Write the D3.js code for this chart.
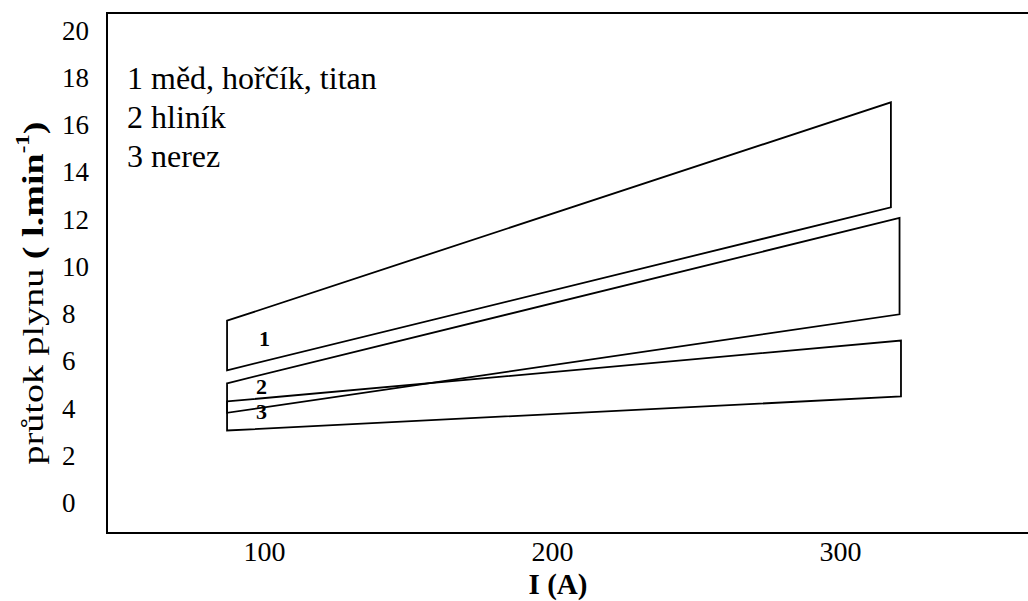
<!DOCTYPE html>
<html>
<head>
<meta charset="utf-8">
<script src="https://cdn.jsdelivr.net/npm/d3@7"></script>
<style>
  body { margin: 0; background: #fff; }
</style>
</head>
<body>
<svg width="1028" height="601" font-family="Liberation Serif, DejaVu Serif, serif"></svg>
<script>
// band data: current range (A) and gas flow (l/min) at both ends
const bandNames = ["1", "2", "3"];
const currentMin = [87, 87, 87];
const currentMax = [317.5, 320.5, 321];
const lowAtMin = [5.6, 3.8, 3.05];
const highAtMin = [7.7, 5.05, 4.28];
const lowAtMax = [12.5, 7.97, 4.49];
const highAtMax = [16.95, 12.05, 6.86];

// where the band numbers sit
const labelX = [100, 99, 99];
const labelY = [6.97, 4.92, 3.85];

const xTicks = [100, 200, 300];
const yTicks = [0, 2, 4, 6, 8, 10, 12, 14, 16, 18, 20];
const legendLines = ["1 měd, hořčík, titan", "2 hliník", "3 nerez"];

const svg = d3.select("svg");
const plot = {left: 107, top: 13, right: 1040, bottom: 533};

const x = d3.scaleLinear().domain([100, 300]).range([264.5, 840.5]);
const y = d3.scaleLinear().domain([0, 20]).range([502.5, 30.3]);

// frame (right side runs off the picture)
svg.append("rect")
  .attr("x", plot.left)
  .attr("y", plot.top)
  .attr("width", plot.right - plot.left)
  .attr("height", plot.bottom - plot.top)
  .attr("fill", "none")
  .attr("stroke", "#000")
  .attr("stroke-width", 2);

// y tick labels, left aligned like the original
svg.append("g")
  .selectAll("text")
  .data(yTicks)
  .join("text")
  .attr("x", 62)
  .attr("y", d => y(d))
  .attr("dy", "0.35em")
  .style("font-size", "27px")
  .text(d => d);

// x tick labels
svg.append("g")
  .selectAll("text")
  .data(xTicks)
  .join("text")
  .attr("x", d => x(d))
  .attr("y", 561)
  .attr("text-anchor", "middle")
  .style("font-size", "28px")
  .text(d => d);

// axis titles
svg.append("text")
  .attr("x", 558)
  .attr("y", 594)
  .attr("text-anchor", "middle")
  .style("font-size", "29px")
  .style("font-weight", "bold")
  .text("I (A)");

const yTitle = svg.append("text")
  .attr("transform", "translate(43,293) rotate(-90) scale(1.27,1)")
  .attr("text-anchor", "middle")
  .style("font-size", "30px");
yTitle.append("tspan").text("průtok plynu ");
yTitle.append("tspan").style("font-weight", "bold").text("( l.min");
yTitle.append("tspan").style("font-weight", "bold").style("font-size", "18px")
  .attr("dy", "-0.8em").text("-1");
yTitle.append("tspan").style("font-weight", "bold").attr("dy", "0.5em").text(")");

// bands
const bands = bandNames.map((n, i) => [
  [currentMin[i], highAtMin[i]],
  [currentMax[i], highAtMax[i]],
  [currentMax[i], lowAtMax[i]],
  [currentMin[i], lowAtMin[i]]
]);

const line = d3.line().x(d => x(d[0])).y(d => y(d[1])).curve(d3.curveLinearClosed);

svg.append("g")
  .selectAll("path")
  .data(bands)
  .join("path")
  .attr("d", line)
  .attr("fill", "none")
  .attr("stroke", "#000")
  .attr("stroke-width", 1.8)
  .attr("stroke-linejoin", "miter");

svg.append("g")
  .selectAll("text")
  .data(bandNames)
  .join("text")
  .attr("x", (d, i) => x(labelX[i]))
  .attr("y", (d, i) => y(labelY[i]))
  .attr("dy", "0.35em")
  .attr("text-anchor", "middle")
  .style("font-size", "22px")
  .style("font-weight", "bold")
  .text(d => d);

// legend
svg.append("g")
  .selectAll("text")
  .data(legendLines)
  .join("text")
  .attr("x", 127)
  .attr("y", (d, i) => 89 + i * 39)
  .style("font-size", "32px")
  .text(d => d);
</script>
</body>
</html>
